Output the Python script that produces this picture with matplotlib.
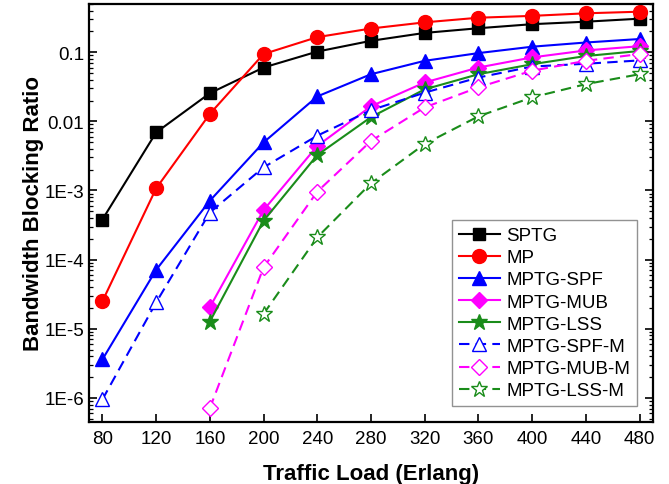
import matplotlib
matplotlib.use("Agg")
from matplotlib import pyplot as plt
from matplotlib import ticker

plt.rcParams['font.family'] = ['Liberation Sans', 'DejaVu Sans']

# traffic load (Erlang)
loads = [80, 120, 160, 200, 240, 280, 320, 360, 400, 440, 480]
loads_mid = loads[2:]   # curves starting at 160
loads_late = loads[3:]  # curve starting at 200

sptg = [3.8e-4, 6.9e-3, 0.0255, 0.060, 0.102, 0.146, 0.190, 0.222, 0.254, 0.276, 0.305]
mp = [2.5e-5, 1.07e-3, 0.0128, 0.094, 0.165, 0.220, 0.270, 0.315, 0.335, 0.365, 0.385]
mptg_spf = [3.6e-6, 7.1e-5, 7.1e-4, 4.95e-3, 0.0229, 0.048, 0.075, 0.097, 0.120, 0.138, 0.155]
mptg_mub = [2.05e-5, 5.2e-4, 4.4e-3, 0.0165, 0.0365, 0.060, 0.084, 0.106, 0.122]
mptg_lss = [1.27e-5, 3.65e-4, 3.25e-3, 0.0115, 0.029, 0.048, 0.067, 0.088, 0.104]
mptg_spf_m = [9.5e-7, 2.4e-5, 4.8e-4, 2.16e-3, 6.2e-3, 0.0145, 0.026, 0.043, 0.062, 0.068, 0.076]
mptg_mub_m = [7.1e-7, 7.7e-5, 9.6e-4, 5.2e-3, 0.0159, 0.031, 0.054, 0.075, 0.094]
mptg_lss_m = [1.64e-5, 2.1e-4, 1.27e-3, 4.7e-3, 0.0118, 0.0222, 0.0345, 0.048]

green = '#1a8c1a'

fig = plt.figure(figsize=(6.69, 4.85), dpi=100)
ax = fig.add_axes([0.133, 0.128, 0.843, 0.862])

lw = 1.5
ax.plot(loads, sptg, color='black', marker='s', ms=8.5, lw=lw, label='SPTG')
ax.plot(loads, mp, color='red', marker='o', ms=10, lw=lw, label='MP')
ax.plot(loads, mptg_spf, color='blue', marker='^', ms=10, lw=lw, label='MPTG-SPF')
ax.plot(loads_mid, mptg_mub, color='magenta', marker='D', ms=8, lw=lw, label='MPTG-MUB')
ax.plot(loads_mid, mptg_lss, color=green, marker='*', ms=12, lw=lw, label='MPTG-LSS')
ax.plot(loads, mptg_spf_m, color='blue', marker='^', ms=10, lw=lw, ls=(0, (5, 3)),
        mfc='white', label='MPTG-SPF-M')
ax.plot(loads_mid, mptg_mub_m, color='magenta', marker='D', ms=8.5, lw=lw, ls=(0, (5, 3)),
        mfc='white', label='MPTG-MUB-M')
ax.plot(loads_late, mptg_lss_m, color=green, marker='*', ms=12, lw=lw, ls=(0, (5, 3)),
        mfc='white', label='MPTG-LSS-M')

ax.set_yscale('log')
ax.set_xlim(70, 490)
ax.set_ylim(4.5e-7, 0.5)

ax.set_xticks(loads)
ax.set_xticklabels([str(v) for v in loads])
ytick_vals = [1e-6, 1e-5, 1e-4, 1e-3, 1e-2, 1e-1]
ytick_labels = ['1E-6', '1E-5', '1E-4', '1E-3', '0.01', '0.1']
ax.yaxis.set_major_locator(ticker.FixedLocator(ytick_vals))
ax.yaxis.set_major_formatter(ticker.FixedFormatter(ytick_labels))
ax.yaxis.set_minor_locator(ticker.LogLocator(base=10, subs=range(2, 10), numticks=20))
ax.yaxis.set_minor_formatter(ticker.NullFormatter())

ax.tick_params(axis='both', which='major', direction='in', length=6, width=1.2,
               labelsize=13.5, colors='black')
ax.tick_params(axis='y', which='both', right=True, direction='in')
ax.tick_params(axis='y', which='minor', length=3, width=0.9)
ax.tick_params(axis='x', which='both', top=False)
ax.tick_params(axis='x', pad=6)
for sp in ax.spines.values():
    sp.set_linewidth(1.6)

ax.set_xlabel('Traffic Load (Erlang)', fontsize=16, fontweight='bold', labelpad=11)
ax.set_ylabel('Bandwidth Blocking Ratio', fontsize=16, fontweight='bold', labelpad=0)

leg = ax.legend(loc='lower right', fontsize=13.5, frameon=True, fancybox=False,
                edgecolor='#777777', handlelength=2.2, handletextpad=0.35,
                labelspacing=0.27, borderaxespad=0.85, borderpad=0.35)
leg.get_frame().set_linewidth(1.0)

fig.savefig('out.png', dpi=100)
